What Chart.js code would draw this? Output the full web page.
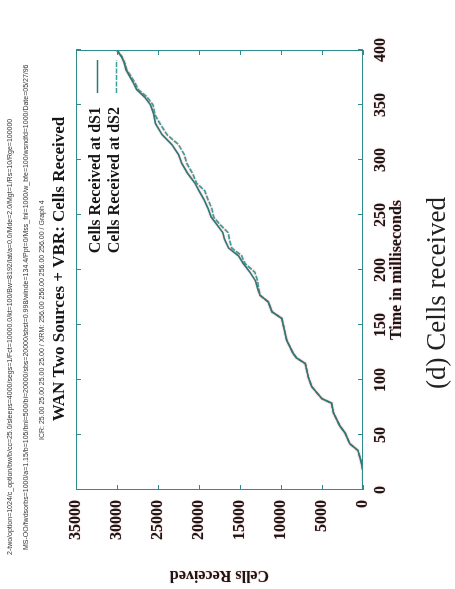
<!DOCTYPE html>
<html>
<head>
<meta charset="utf-8">
<script src="https://cdn.jsdelivr.net/npm/chart.js@4.4.0/dist/chart.umd.min.js"></script>
<style>
  html, body { margin: 0; padding: 0; background: #fff; overflow: hidden; }
  /* the figure is drawn upright (589 x 455) and turned a quarter left, like the scanned page */
  #page { position: absolute; left: 0; top: 0; width: 589px; height: 455px;
          transform-origin: 0 0; transform: translate(0, 589px) rotate(-90deg); }
  #cellsChart { position: absolute; left: 0; top: 0; }
  #caption { position: absolute; left: 200px; top: 421px; font: 27px "Liberation Serif", serif;
             color: #222; white-space: nowrap; }
</style>
</head>
<body>
<div id="page">
  <canvas id="cellsChart" width="589" height="455"></canvas>
  <div id="caption">(d) Cells received</div>
</div>
<script>
// data
const timeMs = [0, 17, 25, 36, 42, 52, 58, 70, 79, 83, 94, 102, 115, 120, 124, 136, 156, 162, 171, 177,
  182, 190, 198, 206, 213, 220, 228, 234, 241, 248, 256, 264, 272, 279, 288, 297, 305, 314, 323, 333,
  341, 350, 357, 364, 370, 376, 382, 388, 394, 400];
const cellsDS1 = [0, 0, 200, 620, 1600, 2200, 2800, 3600, 3850, 5000, 6250, 6650, 7050, 8100, 8500, 9300, 9900, 11100, 11550, 12550,
  12800, 13100, 13800, 14600, 15200, 16400, 16900, 17100, 17800, 18500, 18900, 19400, 20000, 20500, 21400, 22100, 22500, 23300, 24500, 25300,
  25500, 25900, 26600, 27600, 28000, 28450, 28900, 29100, 29450, 30050];
const cellsDS2 = [0, 0, 200, 620, 1600, 2200, 2800, 3600, 3850, 5000, 6250, 6650, 7050, 8100, 8500, 9300, 9900, 11100, 11550, 12550,
  12700, 12850, 13200, 14400, 14800, 16000, 16300, 16450, 17400, 18200, 18450, 18900, 19300, 20300, 20800, 21500, 21800, 22500, 23900, 24750,
  25350, 25600, 26300, 27400, 27800, 28300, 28800, 29050, 29400, 30000];
const seriesLabels = ['Cells Received at dS1', 'Cells Received at dS2'];
const timeTicks = [0, 50, 100, 150, 200, 250, 300, 350, 400];
const cellTicks = [0, 5000, 10000, 15000, 20000, 25000, 30000, 35000];

const headerLines = [
  '2-two/option=1024/c_option/bw/b/cc=25.0/sleeps=4000/segs=1/Fct=10000.0/kt=100/Bw=8192/lat/a=0.0/Mde=2.0/Mgt=1/Rs=10/Rge=100000',
  'MS-OO/fwdsorbs=1000/a=1.15/b=105/bni=500/bi=20000/sbs=20000/sbst=0.998/winde=134.4/Ppt=0/Mss_fni=1000/w_bfe=100/wsndfd=1000/Date=05/27/96',
  'ICR: 25.00 25.00 25.00 25.00 / XRM: 256.00 256.00 256.00 256.00 / Graph 4'
];
const chartTitle = 'WAN Two Sources + VBR: Cells Received';

const serif = '"Liberation Serif", "Times New Roman", serif';
const ink = '#161616';
const frameColor = '#2f8c8c';

// the scan has a soft red fringe round every stroke and letter
const scanFringe = {
  id: 'scanFringe',
  beforeDraw(chart) {
    const ctx = chart.ctx;
    ctx.shadowColor = 'rgba(235, 90, 90, 0.55)';
    ctx.shadowBlur = 1.5;
    ctx.shadowOffsetX = 0;
    ctx.shadowOffsetY = 0;
  },
  afterDraw(chart) {
    const ctx = chart.ctx;
    ctx.shadowColor = 'rgba(0, 0, 0, 0)';
    ctx.shadowBlur = 0;
  }
};

// gnuplot look: full border, ticks pointing inwards, key with sample on the right, header text
const gnuplotDecor = {
  id: 'gnuplotDecor',
  afterDraw(chart) {
    const ctx = chart.ctx;
    const a = chart.chartArea;
    const xs = chart.scales.x, ys = chart.scales.y;
    ctx.save();
    ctx.strokeStyle = frameColor;
    ctx.lineWidth = 1;
    ctx.strokeRect(a.left + 0.5, a.top + 0.5, a.right - a.left - 1, a.bottom - a.top - 1);
    ctx.beginPath();
    timeTicks.forEach(v => {
      const px = Math.round(xs.getPixelForValue(v)) + 0.5;
      ctx.moveTo(px, a.bottom); ctx.lineTo(px, a.bottom - 5);
      ctx.moveTo(px, a.top); ctx.lineTo(px, a.top + 5);
    });
    cellTicks.forEach(v => {
      const py = Math.round(ys.getPixelForValue(v)) + 0.5;
      ctx.moveTo(a.left, py); ctx.lineTo(a.left + 5, py);
      ctx.moveTo(a.right, py); ctx.lineTo(a.right - 5, py);
    });
    ctx.stroke();

    // header lines
    ctx.fillStyle = '#333';
    ctx.textBaseline = 'middle';
    ctx.textAlign = 'left';
    ctx.font = '7px "Liberation Sans", sans-serif';
    ctx.fillText(headerLines[0], 34, 10, 525);
    ctx.fillText(headerLines[1], 39, 26, 550);
    ctx.fillText(headerLines[2], 149, 42, 328);

    // title
    ctx.fillStyle = ink;
    ctx.textAlign = 'center';
    ctx.font = 'bold 17px ' + serif;
    ctx.fillText(chartTitle, 320, 60);

    // key
    ctx.font = 'bold 16px ' + serif;
    chart.data.datasets.forEach((ds, i) => {
      const y = 96 + i * 19;
      ctx.textAlign = 'right';
      ctx.fillStyle = ink;
      ctx.fillText(ds.label, 482, y);
      ctx.strokeStyle = ds.borderColor;
      ctx.lineWidth = ds.borderWidth;
      ctx.setLineDash(ds.borderDash || []);
      ctx.beginPath();
      ctx.moveTo(496, y + 1.5); ctx.lineTo(529, y + 1.5);
      ctx.stroke();
    });
    ctx.restore();
  }
};

const ctx = document.getElementById('cellsChart').getContext('2d');
const cellsChart = new Chart(ctx, {
  type: 'line',
  data: {
    datasets: [{
      label: seriesLabels[0],
      data: timeMs.map((t, i) => ({ x: t, y: cellsDS1[i] })),
      borderColor: '#2a7a7a',
      borderWidth: 1.6,
      pointRadius: 0,
      tension: 0
    }, {
      label: seriesLabels[1],
      data: timeMs.map((t, i) => ({ x: t, y: cellsDS2[i] })),
      borderColor: '#389f9f',
      borderWidth: 1.6,
      borderDash: [5, 1.5],
      pointRadius: 0,
      tension: 0
    }]
  },
  options: {
    responsive: false,
    animation: false,
    devicePixelRatio: 1,
    layout: { padding: { top: 76, right: 50, bottom: 0, left: 0 } },
    plugins: {
      legend: { display: false },
      title: { display: false },
      tooltip: { enabled: false }
    },
    scales: {
      x: {
        type: 'linear',
        min: 0,
        max: 400,
        afterBuildTicks: s => { s.ticks = timeTicks.map(v => ({ value: v })); },
        afterFit: s => { s.height = 92; },
        grid: { display: false, drawTicks: false },
        border: { display: false },
        ticks: { padding: 8, color: ink, font: { family: serif, weight: 'bold', size: 16 }, maxRotation: 0 },
        title: {
          display: true,
          text: 'Time in milliseconds',
          color: ink,
          font: { family: serif, weight: 'bold', size: 16, lineHeight: 1 },
          padding: { top: 0, bottom: 50 }
        }
      },
      y: {
        min: 0,
        max: 35000,
        afterBuildTicks: s => { s.ticks = cellTicks.map(v => ({ value: v })); },
        afterFit: s => { s.width = 99; },
        grid: { display: false, drawTicks: false },
        border: { display: false },
        ticks: { padding: 10, color: ink, font: { family: serif, weight: 'bold', size: 16 },
                 callback: v => String(v) },
        title: {
          display: true,
          text: 'Cells Received',
          color: ink,
          font: { family: serif, weight: 'bold', size: 16, lineHeight: 1 },
          padding: { top: 6, bottom: 0 }
        }
      }
    }
  },
  plugins: [scanFringe, gnuplotDecor]
});
</script>
</body>
</html>
